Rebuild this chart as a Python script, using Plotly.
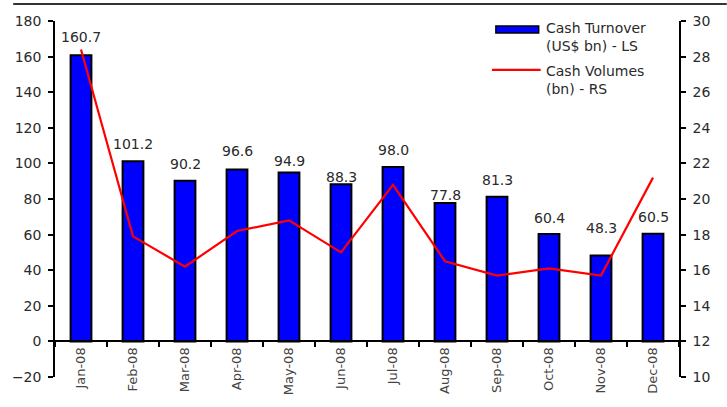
import plotly.graph_objects as go

# Monthly cash market statistics, 2008
months = ["Jan-08", "Feb-08", "Mar-08", "Apr-08", "May-08", "Jun-08",
          "Jul-08", "Aug-08", "Sep-08", "Oct-08", "Nov-08", "Dec-08"]
turnover_usd_bn = [160.7, 101.2, 90.2, 96.6, 94.9, 88.3,
                   98.0, 77.8, 81.3, 60.4, 48.3, 60.5]
volumes_bn = [28.4, 17.9, 16.2, 18.2, 18.8, 17.0,
              20.8, 16.5, 15.7, 16.1, 15.7, 21.2]

# Pixel lift of each value label above its bar top
label_lift = [18, 17, 17, 18, 11, 7, 17, 8, 17, 16, 27, 17]

FONT = "DejaVu Sans"
TEXT = "#2a2a2a"

W, H = 727, 407
L, R, T, B = 52, 48, 21, 29
plot_h = H - T - B
plot_w = W - L - R

fig = go.Figure()

fig.add_trace(go.Bar(
    x=months, y=turnover_usd_bn, name="Cash Turnover (US$ bn) - LS",
    marker=dict(color="#0000FF", line=dict(color="#000000", width=2)),
    width=0.4, yaxis="y", showlegend=False,
))

fig.add_trace(go.Scatter(
    x=months, y=volumes_bn, name="Cash Volumes (bn) - RS",
    mode="lines", line=dict(color="#FF0000", width=2.2),
    yaxis="y2", showlegend=False,
))

# Value labels above the bars
for m, v, lift in zip(months, turnover_usd_bn, label_lift):
    fig.add_annotation(
        x=m, y=v, xref="x", yref="y", text=f"{v:.1f}", showarrow=False,
        yanchor="middle", yshift=lift,
        font=dict(family=FONT, size=14, color=TEXT),
    )

# Zero line position in paper units (x axis sits at y = 0)
y_min, y_max = -20, 180
zero_pos = (0 - y_min) / (y_max - y_min)


def px_x(px):
    return (px - L) / plot_w


def px_y(py):
    return 1 - (py - T) / plot_h


# Legend drawn by hand: swatch + line + two-line captions
fig.add_shape(type="rect", xref="paper", yref="paper",
              x0=px_x(495), x1=px_x(538), y0=px_y(33), y1=px_y(26),
              fillcolor="#0000FF", line=dict(color="#000000", width=1.5))
fig.add_shape(type="line", xref="paper", yref="paper",
              x0=px_x(491), x1=px_x(540), y0=px_y(70), y1=px_y(70),
              line=dict(color="#FF0000", width=2.2))
fig.add_annotation(xref="paper", yref="paper", x=px_x(543), y=px_y(18),
                   xanchor="left", yanchor="top", align="left", showarrow=False,
                   text="Cash Turnover<br>(US$ bn) - LS",
                   font=dict(family=FONT, size=14, color=TEXT))
fig.add_annotation(xref="paper", yref="paper", x=px_x(543), y=px_y(61),
                   xanchor="left", yanchor="top", align="left", showarrow=False,
                   text="Cash Volumes<br>(bn) - RS",
                   font=dict(family=FONT, size=14, color=TEXT))

# Rule across the top of the chart
fig.add_shape(type="line", xref="paper", yref="paper",
              x0=px_x(10), x1=px_x(727), y0=px_y(4), y1=px_y(4),
              line=dict(color="#333333", width=2))

fig.update_layout(
    width=W, height=H,
    margin=dict(l=L, r=R, t=T, b=B, pad=0),
    paper_bgcolor="white", plot_bgcolor="white",
    bargap=0.6,
    xaxis=dict(
        type="category", anchor="free", position=zero_pos,
        showline=True, linecolor="#000000", linewidth=1.5,
        ticks="outside", ticklen=5, tickwidth=1.5, tickcolor="#000000",
        tickson="boundaries", tickangle=-90,
        tickfont=dict(family=FONT, size=13, color="#444444"),
        showgrid=False, zeroline=False,
    ),
    yaxis=dict(
        range=[y_min, y_max], dtick=20,
        showline=True, linecolor="#000000", linewidth=1.5,
        ticks="outside", ticklen=5, tickwidth=1.5, tickcolor="#000000",
        ticklabelstandoff=4,
        tickfont=dict(family=FONT, size=14, color=TEXT),
        showgrid=False, zeroline=False,
    ),
    yaxis2=dict(
        range=[10, 30], dtick=2, overlaying="y", side="right",
        showline=True, linecolor="#000000", linewidth=1.5,
        ticks="outside", ticklen=5, tickwidth=1.5, tickcolor="#000000",
        ticklabelstandoff=4,
        tickfont=dict(family=FONT, size=14, color=TEXT),
        showgrid=False, zeroline=False,
    ),
)

fig.write_html("out.html")
